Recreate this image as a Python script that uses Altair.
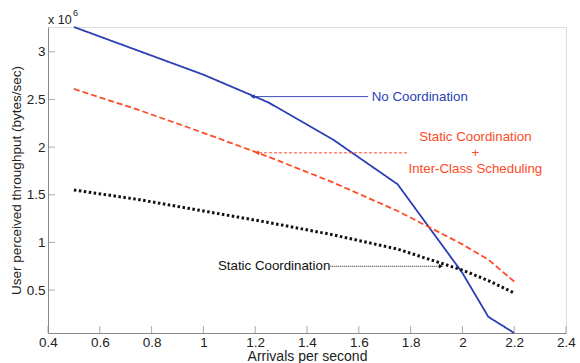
import altair as alt
import pandas as pd

x_vals = [0.5, 0.75, 1.0, 1.25, 1.5, 1.75, 2.0, 2.1, 2.2]
no_coord = [3.26, 3.01, 2.76, 2.47, 2.08, 1.61, 0.68, 0.22, 0.05]
static_inter = [2.61, 2.39, 2.15, 1.90, 1.63, 1.33, 0.98, 0.82, 0.59]
static_coord = [1.55, 1.45, 1.33, 1.21, 1.08, 0.93, 0.71, 0.60, 0.47]

x_ticks = [0.4, 0.6, 0.8, 1.0, 1.2, 1.4, 1.6, 1.8, 2.0, 2.2, 2.4]
y_ticks = [0.5, 1.0, 1.5, 2.0, 2.5, 3.0]

BLUE = "#2b3fb5"
RED = "#ff4a26"
BLACK = "#111111"
FONT = "Liberation Sans"

xs = alt.Scale(domain=[0.4, 2.4], nice=False, zero=False)
ys = alt.Scale(domain=[0.05, 3.26], nice=False, zero=False)

xaxis = alt.Axis(values=x_ticks, title="Arrivals per second", grid=False, ticks=False,
                 labelFont=FONT, labelFontSize=13.5, labelColor="#222", labelPadding=2,
                 labelFlush=False, labelOverlap=False,
                 titleFont=FONT, titleFontSize=14, titleFontWeight="normal", titleColor="#222",
                 titlePadding=1, domainColor="#888", labelExpr="format(datum.value, '.1~f')")
yaxis = alt.Axis(values=y_ticks, title="User perceived throughput (bytes/sec)", grid=False,
                 ticks=False, domainColor="#888",
                 labelFont=FONT, labelFontSize=13.5, labelColor="#222", labelPadding=3,
                 labelFlush=False, labelOverlap=False,
                 titleFont=FONT, titleFontSize=13.5, titleFontWeight="normal", titleColor="#222",
                 titlePadding=3, labelExpr="format(datum.value, '~g')")

def X(f):
    return alt.X(f, scale=xs, axis=xaxis)

def Y(f):
    return alt.Y(f, scale=ys, axis=yaxis)

def line(vals, color, dash, width):
    df = pd.DataFrame({"x": x_vals, "y": vals})
    return alt.Chart(df).mark_line(color=color, strokeDash=dash, strokeWidth=width).encode(
        x=X("x:Q"), y=Y("y:Q"))

blue = line(no_coord, BLUE, [1, 0], 1.8)
red = line(static_inter, RED, [6, 3], 1.8)
black = line(static_coord, BLACK, [2.5, 2.5], 3)

# ticks drawn inward
xt = alt.Chart(pd.DataFrame({"x": x_ticks})).mark_tick(color="#888", orient="vertical", size=7, thickness=1).encode(
    x=X("x:Q"), y=alt.value(302.5))
yt = alt.Chart(pd.DataFrame({"y": y_ticks})).mark_tick(color="#888", orient="horizontal", size=7, thickness=1).encode(
    y=Y("y:Q"), x=alt.value(3.5))

# annotations
arr_df = pd.DataFrame({
    "x": [1.636, 1.786, 1.49], "x2": [1.19, 1.207, 1.917],
    "y": [2.53, 1.94, 0.75]})
def arrow(i, color, dash, shape):
    d = arr_df.iloc[[i]]
    r = alt.Chart(d).mark_rule(color=color, strokeDash=dash, strokeWidth=1).encode(
        x=X("x:Q"), x2="x2:Q", y=Y("y:Q"))
    p = alt.Chart(d).mark_point(shape=shape, filled=True, color=color, size=22, opacity=1).encode(
        x=X("x2:Q"), y=Y("y:Q"))
    return r + p

a1 = arrow(0, BLUE, [1, 0], "triangle-left")
a2 = arrow(1, RED, [3, 2], "triangle-left")
a3 = arrow(2, BLACK, [1, 1], "triangle-right")

labels = pd.DataFrame({
    "x": [1.65, 2.05, 2.05, 2.05, 1.49],
    "y": [2.53, 2.11, 1.94, 1.77, 0.75],
    "t": ["No Coordination", "Static Coordination", "+", "Inter-Class Scheduling", "Static Coordination"],
    "c": [BLUE, RED, RED, RED, BLACK],
    "a": ["left", "center", "center", "center", "right"]})
txt = []
for _, r in labels.iterrows():
    txt.append(alt.Chart(pd.DataFrame([r])).mark_text(
        color=r["c"], align=r["a"], baseline="middle", font=FONT, fontSize=13.3).encode(
        x=X("x:Q"), y=Y("y:Q"), text="t:N"))

exp = alt.Chart(pd.DataFrame({"t": ["x 10"]})).mark_text(
    align="left", baseline="alphabetic", font=FONT, fontSize=12.5, color="#222").encode(
    x=alt.value(0), y=alt.value(-3), text="t:N")
exp6 = alt.Chart(pd.DataFrame({"t": ["6"]})).mark_text(
    align="left", baseline="alphabetic", font=FONT, fontSize=9, color="#222").encode(
    x=alt.value(25), y=alt.value(-11), text="t:N")

chart = alt.layer(blue, red, black, xt, yt, a1, a2, a3, *txt, exp, exp6).properties(
    width=518, height=306,
    autosize=alt.AutoSizeParams(type="none"),
    padding={"left": 48, "top": 27, "right": 14, "bottom": 30},
).configure_view(stroke=None).configure(background="white")

chart.save("out.html", embed_options={"renderer": "svg", "actions": False})
